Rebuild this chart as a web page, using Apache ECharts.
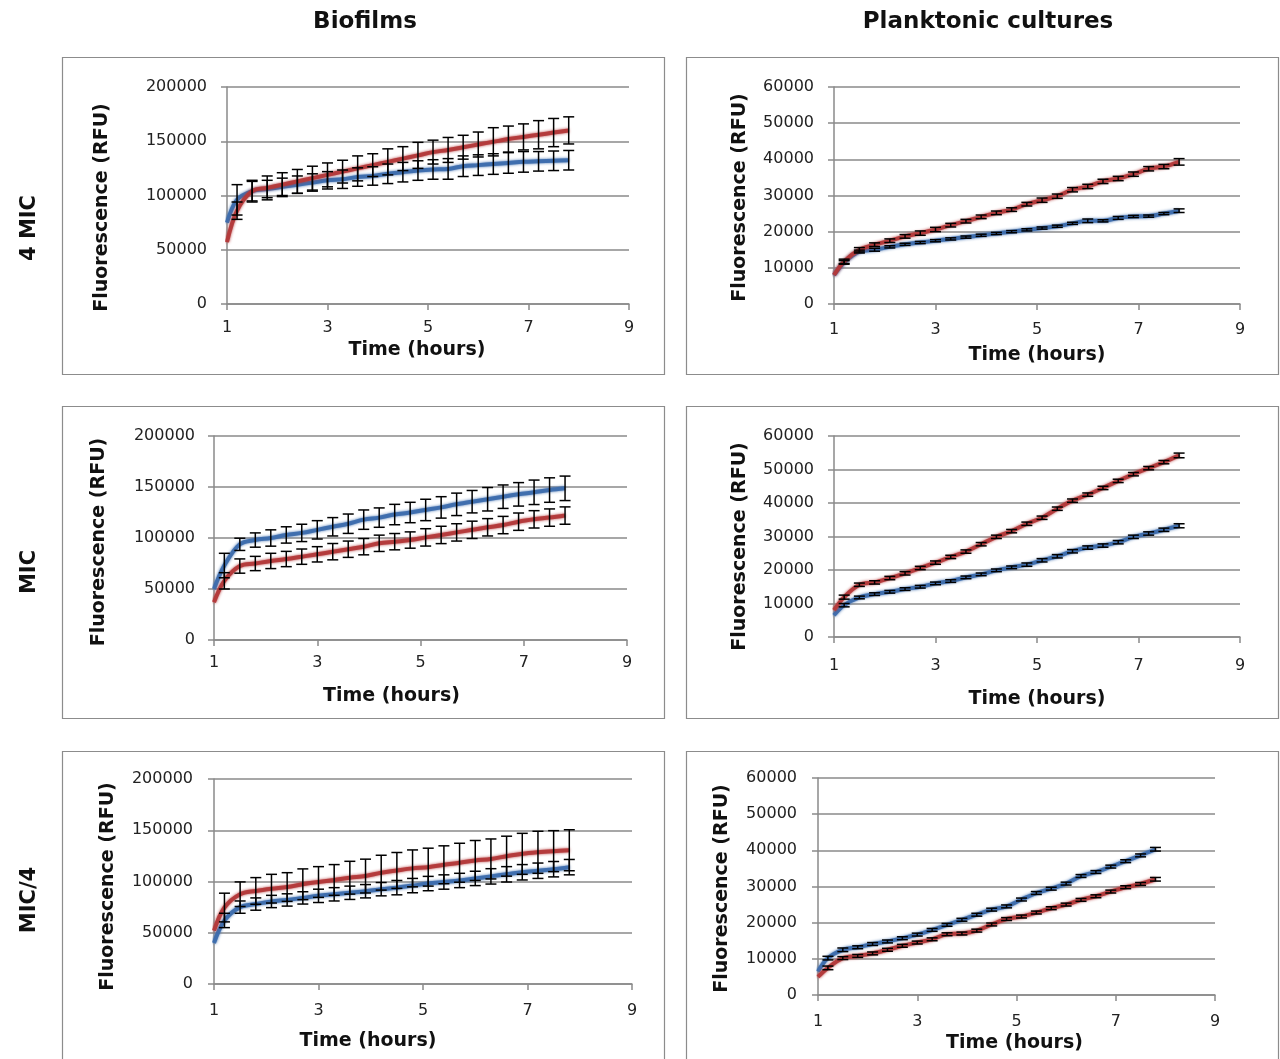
<!DOCTYPE html>
<html>
<head>
<meta charset="utf-8">
<style>
html,body{margin:0;padding:0;background:#fff;}
#chart{width:1280px;height:1059px;}
</style>
<script src="https://cdn.jsdelivr.net/npm/echarts@6/dist/echarts.min.js"></script>
</head>
<body>
<div id="chart"></div>
<script>
// ---------------- DATA ----------------
const hours = [1.0, 1.2, 1.5, 1.8, 2.1, 2.4, 2.7, 3.0, 3.3, 3.6, 3.9, 4.2, 4.5, 4.8, 5.1, 5.4, 5.7, 6.0, 6.3, 6.6, 6.9, 7.2, 7.5, 7.8];
const xTicks = [1, 3, 5, 7, 9];
const columnTitles = ["Biofilms", "Planktonic cultures"];
const rowTitles = ["4 MIC", "MIC", "MIC/4"];
const yTitle = "Fluorescence (RFU)";
const xTitle = "Time (hours)";

// Biofilms, 4 MIC
const bio4_blue    = [75000, 96000, 104000, 106000, 108000, 110000, 112000, 114000, 115000, 117000, 118000, 120000, 121500, 123000, 124000, 124500, 127000, 128000, 129000, 130000, 131000, 131500, 132000, 132500];
const bio4_blueErr = [null, 14000, 9000, 8000, 8000, 8000, 8000, 8000, 8500, 8500, 8500, 9000, 9000, 9000, 9000, 9500, 9500, 9500, 9500, 9500, 9500, 9000, 9000, 9000];
const bio4_red     = [57000, 86000, 104000, 107000, 110000, 113000, 116000, 119000, 122000, 125000, 128000, 131000, 134000, 137000, 140000, 142000, 144500, 147000, 149500, 152000, 154000, 156000, 158000, 160000];
const bio4_redErr  = [null, 8000, 10000, 11000, 11000, 11000, 11000, 11000, 10500, 11500, 10500, 12000, 11000, 12000, 11000, 11500, 11000, 11500, 13000, 12000, 12000, 13000, 13000, 12500];

// Planktonic, 4 MIC
const plk4_blue    = [8000, 11500, 14500, 15000, 15800, 16500, 17000, 17500, 18000, 18500, 19000, 19500, 20000, 20500, 21000, 21500, 22300, 23000, 23000, 23800, 24200, 24300, 25000, 25800];
const plk4_blueErr = [null, 500, 400, 400, 300, 300, 300, 300, 300, 300, 300, 300, 300, 300, 300, 300, 300, 500, 300, 400, 300, 300, 300, 500];
const plk4_red     = [8000, 11800, 15000, 16400, 17500, 18700, 19600, 20600, 21800, 22900, 24100, 25200, 26100, 27600, 28700, 29800, 31600, 32500, 33900, 34700, 35900, 37400, 38000, 39300];
const plk4_redErr  = [null, 600, 600, 500, 500, 500, 600, 600, 500, 500, 500, 500, 500, 500, 600, 600, 600, 600, 600, 600, 600, 600, 600, 900];

// Biofilms, MIC
const bio1_blue    = [50000, 73000, 93800, 98000, 100000, 103000, 105000, 108000, 111000, 114000, 118000, 120000, 123000, 125000, 127500, 130000, 133000, 135600, 138000, 140500, 142800, 144800, 147000, 148700];
const bio1_blueErr = [null, 12000, 6000, 7000, 8000, 8000, 8500, 9000, 9000, 9500, 9500, 9500, 10000, 10000, 10500, 10500, 11000, 11000, 11500, 11500, 11500, 12000, 12000, 12000];
const bio1_red     = [37000, 58000, 72500, 75000, 77500, 79400, 81700, 84000, 86600, 89000, 91500, 94800, 96400, 98000, 100600, 103000, 105500, 108000, 110500, 112700, 116000, 118300, 120000, 122000];
const bio1_redErr  = [null, 8000, 7000, 7000, 7500, 7500, 7500, 7500, 8000, 8000, 8000, 8000, 8000, 8000, 8500, 8500, 8500, 8500, 8500, 8500, 8500, 8500, 8500, 8500];

// Planktonic, MIC
const plk1_blue    = [6500, 9500, 11800, 12800, 13500, 14300, 15000, 16000, 16700, 17800, 18700, 19900, 20800, 21600, 22900, 24100, 25600, 26700, 27300, 28300, 29900, 30900, 32000, 33200];
const plk1_blueErr = [null, 500, 400, 400, 400, 400, 400, 400, 400, 400, 400, 400, 400, 500, 500, 500, 500, 500, 500, 500, 500, 500, 500, 600];
const plk1_red     = [8000, 11900, 15600, 16300, 17600, 19000, 20600, 22200, 23900, 25500, 27700, 29900, 31600, 33800, 35600, 38300, 40700, 42500, 44500, 46600, 48600, 50400, 52200, 54200];
const plk1_redErr  = [null, 600, 500, 500, 500, 500, 500, 500, 500, 500, 500, 500, 500, 500, 500, 500, 500, 500, 500, 500, 500, 500, 500, 700];

// Biofilms, MIC/4
const bioq_blue    = [40000, 62000, 75000, 78000, 80500, 82000, 84000, 86000, 87500, 89000, 90500, 92500, 94000, 96000, 98000, 99500, 101000, 103000, 105000, 107000, 109000, 110500, 112000, 114000];
const bioq_blueErr = [null, 7000, 6000, 6000, 6000, 6000, 6000, 6500, 6500, 6500, 6500, 6500, 7000, 7000, 7000, 7000, 7000, 7000, 7500, 7500, 7500, 7500, 7500, 7500];
const bioq_red     = [52000, 74600, 87600, 90800, 93000, 94600, 97300, 99500, 101500, 103700, 105300, 108600, 110800, 112800, 114000, 116300, 118300, 120500, 122000, 124700, 127000, 128500, 129600, 130500];
const bioq_redErr  = [null, 14000, 12000, 13000, 14000, 14000, 15000, 15000, 15000, 16000, 16500, 17000, 17500, 18000, 18500, 18500, 19000, 19500, 19500, 19500, 20000, 20500, 20000, 20000];

// Planktonic, MIC/4
const plkq_blue    = [6500, 10200, 12500, 13200, 14100, 14800, 15700, 16700, 18000, 19400, 20800, 22200, 23600, 24500, 26400, 28200, 29400, 30800, 32900, 34000, 35500, 37000, 38600, 40300];
const plkq_blueErr = [null, 500, 500, 400, 400, 400, 400, 400, 400, 400, 400, 400, 400, 400, 400, 400, 400, 400, 400, 400, 400, 400, 400, 500];
const plkq_red     = [5000, 7500, 10200, 10800, 11500, 12500, 13600, 14500, 15400, 16800, 17000, 17800, 19500, 21000, 21700, 22800, 24000, 25000, 26300, 27300, 28600, 29800, 30700, 32000];
const plkq_redErr  = [null, 500, 400, 400, 400, 400, 400, 400, 400, 400, 400, 400, 400, 400, 400, 400, 400, 400, 400, 400, 400, 400, 400, 500];

const bioYTicks = [0, 50000, 100000, 150000, 200000];
const plkYTicks = [0, 10000, 20000, 30000, 40000, 50000, 60000];

// ---------------- LAYOUT ----------------
const BLUE = '#3d6dad';
const RED = '#b3393a';
const GRID = '#8a8a8a';
const FONT = "'DejaVu Sans', 'Open Sans', sans-serif";

const panels = [
  {box:[62,57,602,317],   grid:{left:227, top:87,  width:402, height:217}, yTicks:bioYTicks, blue:bio4_blue, blueErr:bio4_blueErr, red:bio4_red, redErr:bio4_redErr, yGap:115, yShift:12, xGap:37, xShift:-11, xLblMargin:16, yLblMargin:20},
  {box:[686,57,592,317],  grid:{left:834, top:87,  width:406, height:217}, yTicks:plkYTicks, blue:plk4_blue, blueErr:plk4_blueErr, red:plk4_red, redErr:plk4_redErr, yGap:84, yShift:2, xGap:42, xShift:0, xLblMargin:18, yLblMargin:20},
  {box:[62,406,602,312],  grid:{left:214, top:436, width:413, height:204}, yTicks:bioYTicks, blue:bio1_blue, blueErr:bio1_blueErr, red:bio1_red, redErr:bio1_redErr, yGap:105, yShift:4, xGap:47, xShift:-29, xLblMargin:15, yLblMargin:19},
  {box:[686,406,592,312], grid:{left:834, top:436, width:406, height:201}, yTicks:plkYTicks, blue:plk1_blue, blueErr:plk1_blueErr, red:plk1_red, redErr:plk1_redErr, yGap:84, yShift:10, xGap:53, xShift:0, xLblMargin:21, yLblMargin:20},
  {box:[62,751,602,312],  grid:{left:214, top:779, width:418, height:205}, yTicks:bioYTicks, blue:bioq_blue, blueErr:bioq_blueErr, red:bioq_red, redErr:bioq_redErr, yGap:96, yShift:5, xGap:48, xShift:-55, xLblMargin:19, yLblMargin:21},
  {box:[686,751,592,312], grid:{left:818, top:778, width:397, height:217}, yTicks:plkYTicks, blue:plkq_blue, blueErr:plkq_blueErr, red:plkq_red, redErr:plkq_redErr, yGap:86, yShift:2, xGap:39, xShift:-2, xLblMargin:19, yLblMargin:21}
];

// ---------------- BUILD ----------------
function errorBarRender(params, api) {
  const x = api.value(0), y = api.value(1), e = api.value(2);
  const top = api.coord([x, y + e]);
  const bot = api.coord([x, y - e]);
  const hw = 5.5;
  const st = {stroke:'#000', lineWidth:1.5};
  return {type:'group', children:[
    {type:'line', shape:{x1:top[0], y1:top[1], x2:bot[0], y2:bot[1]}, style:st},
    {type:'line', shape:{x1:top[0]-hw, y1:top[1], x2:top[0]+hw, y2:top[1]}, style:st},
    {type:'line', shape:{x1:bot[0]-hw, y1:bot[1], x2:bot[0]+hw, y2:bot[1]}, style:st}
  ]};
}

const grids = [], xAxes = [], yAxes = [], series = [], graphics = [];

panels.forEach((p, i) => {
  graphics.push({type:'rect', z:-10, shape:{x:p.box[0]+0.5, y:p.box[1]+0.5, width:p.box[2], height:p.box[3]},
    style:{fill:'#fff', stroke:'#8c8c8c', lineWidth:1.2}});
  grids.push(Object.assign({containLabel:false}, p.grid));
  const yMax = p.yTicks[p.yTicks.length-1];
  xAxes.push({
    type:'value', gridIndex:i, min:xTicks[0], max:xTicks[xTicks.length-1], interval:xTicks[1]-xTicks[0],
    name:xTitle, nameLocation:'middle', nameGap:p.xGap,
    nameTextStyle:{fontFamily:FONT, fontWeight:'bold', fontSize:19, color:'#111',
      padding: p.xShift < 0 ? [0, -2*p.xShift, 0, 0] : [0, 0, 0, 2*p.xShift]},
    axisLine:{show:true, lineStyle:{color:GRID, width:1.5}},
    axisTick:{show:true, length:6, inside:false, lineStyle:{color:GRID, width:1.5}},
    axisLabel:{fontFamily:FONT, fontSize:16, color:'#222', margin:p.xLblMargin},
    splitLine:{show:false}
  });
  yAxes.push({
    type:'value', gridIndex:i, min:0, max:yMax, interval:p.yTicks[1]-p.yTicks[0],
    name:yTitle, nameLocation:'middle', nameGap:p.yGap, nameRotate:90,
    nameTextStyle:{fontFamily:FONT, fontWeight:'bold', fontSize:19, color:'#111',
      padding:[0, 2*p.yShift, 0, 0]},
    axisLine:{show:true, lineStyle:{color:GRID, width:1.5}},
    axisTick:{show:true, length:6, inside:false, lineStyle:{color:GRID, width:1.5}},
    axisLabel:{fontFamily:FONT, fontSize:16, color:'#222', margin:p.yLblMargin, formatter:(v) => String(v)},
    splitLine:{show:true, lineStyle:{color:GRID, width:1.5}}
  });
  const mk = (vals) => hours.map((h, k) => [h, vals[k]]);
  const mkErr = (vals, errs) => hours.map((h, k) => [h, vals[k], errs[k]]).filter(d => d[2] != null);
  [['blue', BLUE], ['red', RED]].forEach(([key, col]) => {
    series.push({
      type:'line', xAxisIndex:i, yAxisIndex:i, data:mk(p[key]), smooth:0.35, showSymbol:false, symbol:'none',
      lineStyle:{color:col, width:4, shadowColor:col, shadowBlur:3, opacity:0.95}, z:2, silent:true
    });
  });
  [['blue','blueErr'], ['red','redErr']].forEach(([k, ek]) => {
    series.push({
      type:'custom', xAxisIndex:i, yAxisIndex:i, data:mkErr(p[k], p[ek]), renderItem:errorBarRender,
      encode:{x:0, y:1}, z:5, silent:true, clip:false
    });
  });
});

// Column and row titles
const colX = [365, 988];
columnTitles.forEach((t, i) => graphics.push({type:'text', x:colX[i], y:22,
  style:{text:t, fontFamily:FONT, fontWeight:'bold', fontSize:23, fill:'#111', align:'center', verticalAlign:'middle'}}));
const rowY = [228, 572, 900];
rowTitles.forEach((t, i) => graphics.push({type:'text', x:30, y:rowY[i], rotation:Math.PI/2,
  style:{text:t, fontFamily:FONT, fontWeight:'bold', fontSize:21, fill:'#111', align:'center', verticalAlign:'middle'}}));

const chart = echarts.init(document.getElementById('chart'), null, {renderer:'canvas'});
chart.setOption({
  animation:false,
  backgroundColor:'#fff',
  grid:grids, xAxis:xAxes, yAxis:yAxes, series:series, graphic:graphics
});
</script>
</body>
</html>
